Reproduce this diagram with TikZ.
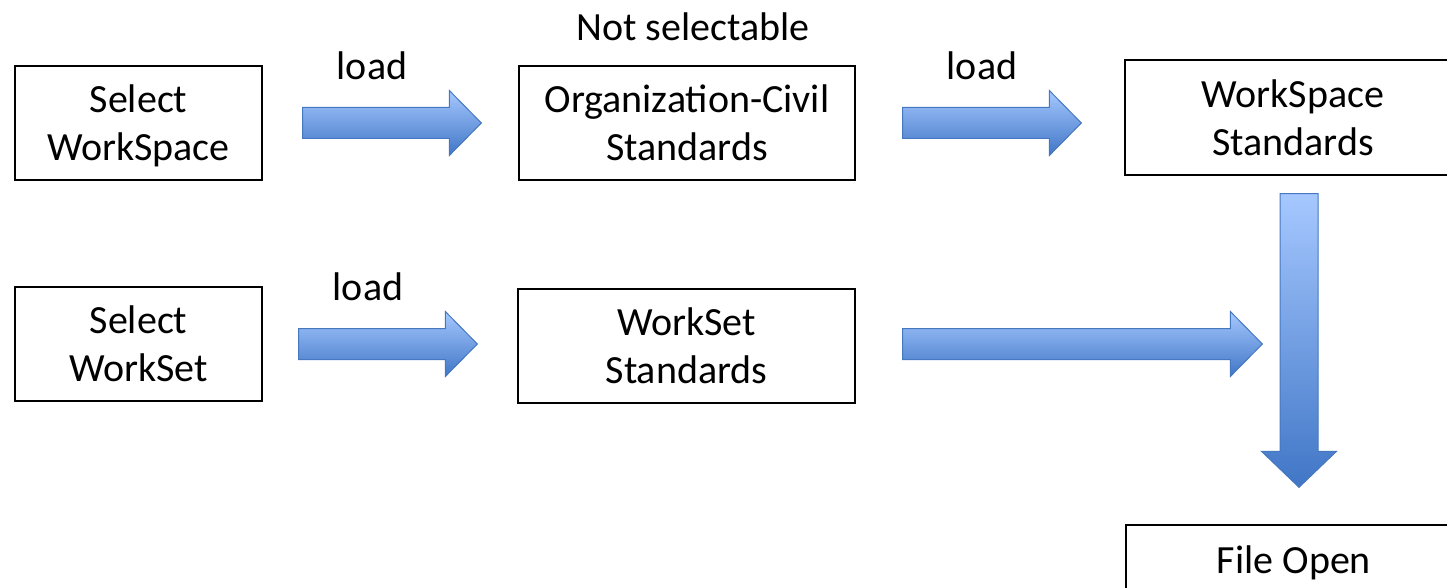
\documentclass[tikz,border=0pt]{standalone}
\usepackage{fontspec}
\setmainfont{Carlito}
\usetikzlibrary{calc}

\definecolor{arrowtop}{RGB}{166,200,255}
\definecolor{arrowbot}{RGB}{64,118,198}
\definecolor{arrowline}{RGB}{70,120,192}

\tikzset{every picture/.style={line width=0.75pt}}
\tikzset{
  stdbox/.style={draw, line width=1pt, minimum height=85.5pt, align=center, inner sep=0pt,
    font=\fontsize{30}{36}\selectfont},
  lbl/.style={inner sep=0pt, font=\fontsize{30}{36}\selectfont},
  blockarrow/.style={top color=arrowtop, bottom color=arrowbot, draw=arrowline, line width=0.75pt}
}

% horizontal block arrow from tail #1 to tip #2 (same height)
\newcommand{\hblockarrow}[2]{%
  \shade[blockarrow] ($(#1)+(0,-15.5)$) -- ($(#2)+(-32,-15.5)$) -- ($(#2)+(-32,-32.5)$) -- (#2)
    -- ($(#2)+(-32,32.5)$) -- ($(#2)+(-32,15.5)$) -- ($(#1)+(0,15.5)$) -- cycle;}
% vertical block arrow, pointing down
\newcommand{\vblockarrow}[2]{%
  \shade[blockarrow] ($(#1)+(-19,0)$) -- ($(#2)+(-19,-36)$) -- ($(#2)+(-37.5,-36)$) -- (#2)
    -- ($(#2)+(37.5,-36)$) -- ($(#2)+(19,-36)$) -- ($(#1)+(19,0)$) -- cycle;}

\begin{document}
\begin{tikzpicture}[x=0.75pt,y=0.75pt,yscale=-1,xscale=1]
		\useasboundingbox (0,0) rectangle (1447,588);
		
		%Boxes
		\node[stdbox, minimum width=185.25pt] (selws) at (138.5,123) {Select\\\smash{WorkSpace}};
		\node[stdbox, minimum width=252pt] (org) at (687,123) {Organization-Civil\\Standards};
		\node[stdbox, minimum width=252pt, minimum height=86.25pt] (wsstd) at (1293,117.5) {WorkSpace\\Standards};
		\node[stdbox, minimum width=185.25pt] (selwset) at (138.5,344) {Select\\WorkSet};
		\node[stdbox, minimum width=252.75pt] (wsetstd) at (686.5,346) {WorkSet\\Standards};
		\node[stdbox, minimum width=252pt, minimum height=57pt] (fileopen) at (1294,563) {File Open};
		
		%Labels
		\node[lbl] (notsel) at (693,27) {Not selectable};
		\node[lbl] (load1) at (372,66) {load};
		\node[lbl] (load2) at (982,66) {load};
		\node[lbl] (load3) at (368,287) {load};
		
		%Arrows
		\coordinate (a1) at ($(selws.east)+(40,0)$);
		\coordinate (b1) at ($(org.west)+(-37,0)$);
		\hblockarrow{a1}{b1}
		\coordinate (a2) at ($(org.east)+(47,0)$);
		\coordinate (b2) at ($(org.east -| wsstd.west)+(-43,0)$);
		\hblockarrow{a2}{b2}
		\coordinate (a3) at ($(selwset.east)+(36,0)$);
		\coordinate (b3) at ($(selwset.east -| wsetstd.west)+(-40,0)$);
		\hblockarrow{a3}{b3}
		\coordinate (a4) at ($(wsetstd.east)+(47,-2)$);
		\coordinate (b4) at ($(a4 -| wsstd.west)+(138,0)$);
		\hblockarrow{a4}{b4}
		\coordinate (a5) at ($(wsstd.south)+(6,18)$);
		\coordinate (b5) at ($(fileopen.north)+(5,-37)$);
		\vblockarrow{a5}{b5}
		
\end{tikzpicture}
\end{document}
